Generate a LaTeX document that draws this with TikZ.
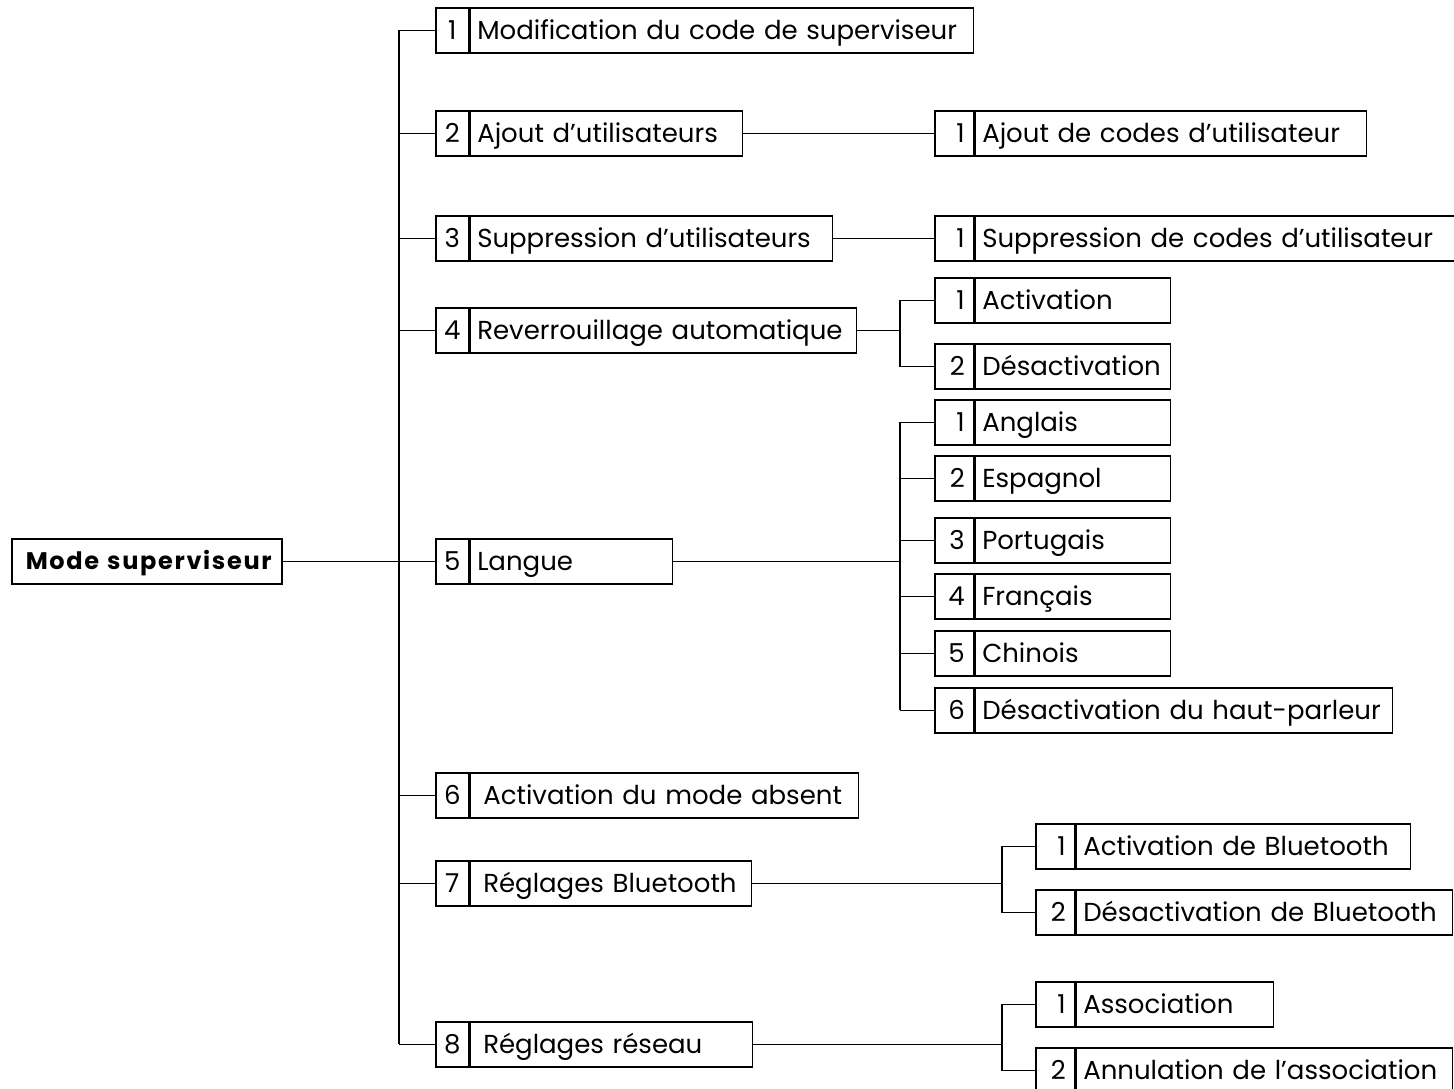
\documentclass[tikz,border=0pt]{standalone}
\usepackage{fontspec}
\setmainfont{Poppins}
\usetikzlibrary{positioning}

\tikzset{
  cell/.style={draw, line width=0.75pt, minimum height=22.5pt, inner sep=0pt,
    text height=9.1pt, text depth=0pt, font=\fontsize{13}{15}\selectfont},
  numcell/.style={cell, minimum width=16.5pt, anchor=north west},
  subnum/.style={numcell, minimum width=19.5pt, inner xsep=4.5pt, text width=10.5pt, align=right},
  labcell/.style={cell, inner xsep=3.5pt, text width=#1, align=left},
  link/.style={line width=0.75pt},
}

% #1 name, #2 position, #3 number style, #4 number, #5 text width, #6 label
\newcommand{\menuitem}[6]{%
  \node[#3] (#1n) at (#2) {#4};
  \node[labcell=#5, right=0pt of #1n] (#1) {\mbox{#6}};
}

\begin{document}
\begin{tikzpicture}[x=0.5pt, y=-0.5pt]
  \useasboundingbox (0,0) rectangle (1454,1088);

  % root
  \node[cell, anchor=north west, inner xsep=7pt, text width=121pt, align=left,
    text height=8.4pt, font=\fontsize{12}{14}\selectfont\bfseries\addfontfeatures{LetterSpace=7}]
    (root) at (11,538) {\mbox{Mode superviseur}};

  % first level
  \menuitem{m1}{435,7}{numcell}{1}{244.5pt}{Modification du code de superviseur}
  \menuitem{m2}{435,110}{numcell}{2}{129pt}{Ajout d’utilisateurs}
  \menuitem{m3}{435,215}{numcell}{3}{174pt}{Suppression d’utilisateurs}
  \menuitem{m4}{435,307}{numcell}{4}{186pt}{Reverrouillage automatique}
  \menuitem{m5}{435,538}{numcell}{5}{94pt}{Langue}
  \menuitem{m6}{435,772}{numcell}{6}{187pt}{\hspace{3pt}Activation du mode absent}
  \menuitem{m7}{435,860}{numcell}{7}{133.5pt}{\hspace{3pt}Réglages Bluetooth}
  \menuitem{m8}{435,1021}{numcell}{8}{134pt}{\hspace{3pt}Réglages réseau}

  % second level
  \menuitem{s21}{934,110}{subnum}{1}{188.5pt}{Ajout de codes d’utilisateur}
  \menuitem{s31}{934,215}{subnum}{1}{233pt}{Suppression de codes d’utilisateur}
  \menuitem{s41}{934,277}{subnum}{1}{90.5pt}{Activation}
  \menuitem{s42}{934,343}{subnum}{2}{90.5pt}{Désactivation}
  \menuitem{s51}{934,399}{subnum}{1}{90.5pt}{Anglais}
  \menuitem{s52}{934,455}{subnum}{2}{90.5pt}{Espagnol}
  \menuitem{s53}{934,517}{subnum}{3}{90.5pt}{Portugais}
  \menuitem{s54}{934,573}{subnum}{4}{90.5pt}{Français}
  \menuitem{s55}{934,630}{subnum}{5}{90.5pt}{Chinois}
  \menuitem{s56}{934,687}{subnum}{6}{201.5pt}{Désactivation du haut-parleur}
  \menuitem{s71}{1035,823}{subnum}{1}{160pt}{Activation de Bluetooth}
  \menuitem{s72}{1035,889}{subnum}{2}{181pt}{Désactivation de Bluetooth}
  \menuitem{s81}{1035,981}{subnum}{1}{91.5pt}{Association}
  \menuitem{s82}{1035,1047}{subnum}{2}{181pt}{Annulation de l’association}

  % buses
  \coordinate (trunk) at (399,0);
  \coordinate (bus4) at (900,0);
  \coordinate (bus5) at (900,0);
  \coordinate (bus7) at (1002,0);
  \coordinate (bus8) at (1002,0);

  % connectors
  \draw[link] (root.east) -- (m5n.west);
  \draw[link] (m1n.west -| trunk) -- (m8n.west -| trunk);
  \foreach \i in {1,2,3,4,6,7,8}
    \draw[link] (m\i n.west -| trunk) -- (m\i n.west);

  \draw[link] (m2.east) -- (s21n.west);
  \draw[link] (m3.east) -- (s31n.west);

  \draw[link] (m4.east) -- (m4.east -| bus4);
  \draw[link] (s41n.west) -- (s41n.west -| bus4) -- (s42n.west -| bus4) -- (s42n.west);

  \draw[link] (m5.east) -- (m5.east -| bus5);
  \draw[link] (s51n.west -| bus5) -- (s56n.west -| bus5);
  \foreach \i in {1,...,6}
    \draw[link] (s5\i n.west -| bus5) -- (s5\i n.west);

  \draw[link] (m7.east) -- (m7.east -| bus7);
  \draw[link] (s71n.west) -- (s71n.west -| bus7) -- (s72n.west -| bus7) -- (s72n.west);

  \draw[link] (m8.east) -- (m8.east -| bus8);
  \draw[link] (s81n.west) -- (s81n.west -| bus8) -- (s82n.west -| bus8) -- (s82n.west);
\end{tikzpicture}
\end{document}
